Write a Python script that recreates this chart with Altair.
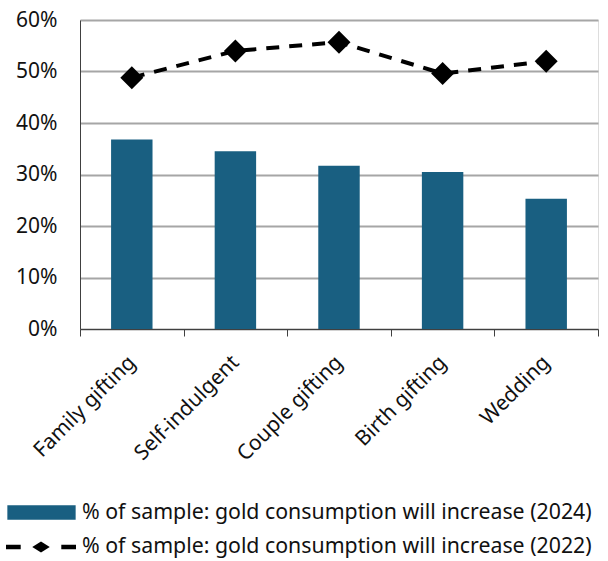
import altair as alt
import pandas as pd

# Gift/purpose categories and survey shares
categories = ["Family gifting", "Self-indulgent", "Couple gifting", "Birth gifting", "Wedding"]
share_2024 = [0.368, 0.345, 0.317, 0.305, 0.253]
share_2022 = [0.488, 0.540, 0.557, 0.496, 0.520]

label_2024 = "% of sample: gold consumption will increase (2024)"
label_2022 = "% of sample: gold consumption will increase (2022)"

df = pd.DataFrame({
    "category": categories,
    "y2024": share_2024,
    "y2022": share_2022,
    "s2024": [label_2024] * len(categories),
    "s2022": [label_2022] * len(categories),
})

FONT = "Noto Sans"
FONT_SIZE = 21
LEGEND_FONT_SIZE = 21.3
TEXT_COLOR = "#111111"
BAR_COLOR = "#195f81"

# Legend glyphs: a wide flat box for the bars, dash-diamond-dash for the line
bar_glyph = "M-1,-0.21H1V0.21H-1Z"
line_glyph = ("M-1,-0.065H-0.58V0.065H-1Z "
              "M-0.25,0L0,-0.16L0.25,0L0,0.16Z "
              "M0.58,-0.065H1V0.065H0.58Z")

x_enc = alt.X(
    "category:N",
    sort=categories,
    scale=alt.Scale(paddingInner=0, paddingOuter=0),
    axis=alt.Axis(
        title=None,
        grid=False,
        tickBand="extent",
        ticks=True,
        tickSize=7,
        tickColor="#404040",
        domainColor="#404040",
        labelAngle=-45,
        labelAlign="right",
        labelBaseline="middle",
        labelFont=FONT,
        labelFontSize=FONT_SIZE,
        labelColor=TEXT_COLOR,
        labelPadding=23,
    ),
)

y_scale = alt.Scale(domain=[0, 0.6], nice=False)

bars = alt.Chart(df).mark_bar(
    width=alt.RelativeBandSize(0.4)
).encode(
    x=x_enc,
    y=alt.Y(
        "y2024:Q",
        scale=y_scale,
        axis=alt.Axis(
            title=None,
            format=".0%",
            values=[0, 0.1, 0.2, 0.3, 0.4, 0.5, 0.6],
            grid=True,
            gridColor="#a6a6a6",
            gridWidth=2,
            ticks=False,
            domainColor="#404040",
            labelFont=FONT,
            labelFontSize=FONT_SIZE,
            labelColor=TEXT_COLOR,
            labelPadding=23,
        ),
    ),
    color=alt.Color(
        "s2024:N",
        scale=alt.Scale(range=[BAR_COLOR]),
        legend=alt.Legend(
            title=None,
            orient="none",
            legendX=-73,
            legendY=458,
            symbolType=bar_glyph,
            symbolSize=4665,
            symbolStrokeWidth=0,
            labelFont=FONT,
            labelFontSize=LEGEND_FONT_SIZE,
            labelColor=TEXT_COLOR,
            labelOffset=6,
            labelLimit=600,
            padding=0,
        ),
    ),
)

line = alt.Chart(df).mark_line(
    color="black",
    strokeWidth=4,
    strokeDash=[13, 10],
).encode(
    x=alt.X("category:N", sort=categories),
    y=alt.Y("y2022:Q", scale=y_scale),
)

points = alt.Chart(df).mark_point(
    shape="diamond",
    filled=True,
    size=529,
    opacity=1,
).encode(
    x=alt.X("category:N", sort=categories),
    y=alt.Y("y2022:Q", scale=y_scale),
    fill=alt.Fill(
        "s2022:N",
        scale=alt.Scale(range=["black"]),
        legend=alt.Legend(
            title=None,
            orient="none",
            legendX=-74,
            legendY=492,
            symbolType=line_glyph,
            symbolSize=4900,
            symbolStrokeWidth=0,
            labelFont=FONT,
            labelFontSize=LEGEND_FONT_SIZE,
            labelColor=TEXT_COLOR,
            labelOffset=6,
            labelLimit=600,
            padding=0,
        ),
    ),
)

chart = alt.layer(bars, line, points).properties(
    width=518,
    height=309,
    autosize=alt.AutoSizeParams(type="none"),
    padding={"left": 80, "top": 20, "right": 10, "bottom": 232},
).configure_view(
    stroke=None
).configure(
    background="white"
)

chart.save("out.html", embed_options={"renderer": "svg", "actions": False})
